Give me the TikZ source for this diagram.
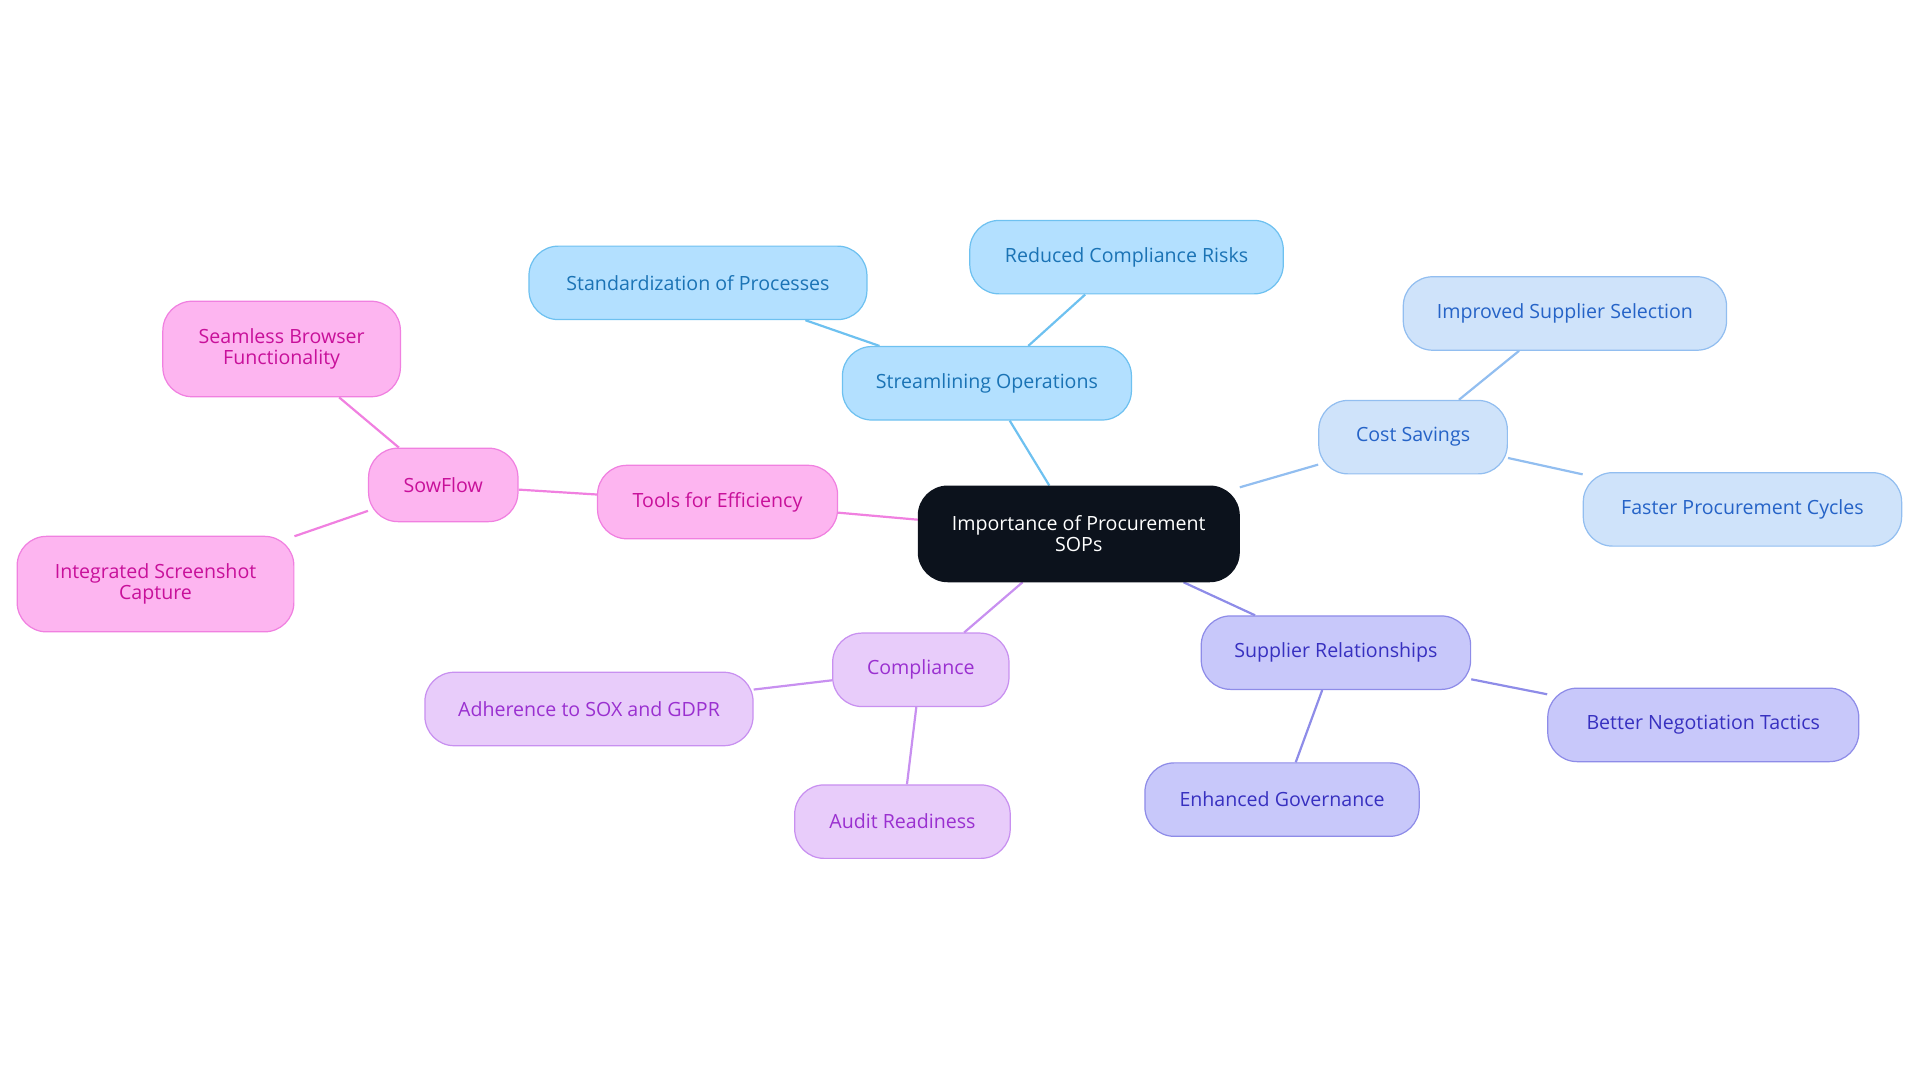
\documentclass[tikz,border=0pt]{standalone}
\usepackage{fontspec}
\setmainfont{Open Sans}
\usetikzlibrary{backgrounds}
\definecolor{bF}{HTML}{B3E0FF}\definecolor{bD}{HTML}{6EC1F0}\definecolor{bT}{HTML}{1A73B5}
\definecolor{cF}{HTML}{CFE3FA}\definecolor{cD}{HTML}{92BEF0}\definecolor{cT}{HTML}{2563C7}
\definecolor{sF}{HTML}{C8C8FA}\definecolor{sD}{HTML}{8E8CE8}\definecolor{sT}{HTML}{3730C0}
\definecolor{pF}{HTML}{E8CCFA}\definecolor{pD}{HTML}{C890F0}\definecolor{pT}{HTML}{9A30D0}
\definecolor{tF}{HTML}{FDB5F0}\definecolor{tD}{HTML}{F080E0}\definecolor{tT}{HTML}{C8109A}
\definecolor{ctr}{HTML}{0C121C}
\tikzset{
 x=0.5pt,y=-0.5pt,
 box/.style={rounded corners=12pt,draw,line width=0.5pt,font=\fontsize{8}{8.6}\selectfont,align=center,minimum height=30pt,inner sep=0pt},
 bl/.style={box,fill=bF,draw=bD,text=bT},
 cl/.style={box,fill=cF,draw=cD,text=cT},
 sl/.style={box,fill=sF,draw=sD,text=sT},
 pl/.style={box,fill=pF,draw=pD,text=pT},
 tl/.style={box,fill=tF,draw=tD,text=tT},
 ed/.style={line width=0.9pt}
}
\begin{document}
\begin{tikzpicture}
\useasboundingbox (0,0) rectangle (1568,884);
\node[box,fill=ctr,draw=ctr,text=white,minimum width=131pt,minimum height=39pt] (c) at (881,436) {Importance of Procurement\\SOPs};
\node[bl,minimum width=118pt] (so) at (806,313) {Streamlining Operations};
\node[bl,minimum width=138pt] (sp) at (570,231) {Standardization of Processes};
\node[bl,minimum width=128pt] (rc) at (920,210) {Reduced Compliance Risks};
\node[cl,minimum width=77pt] (cs) at (1154,357) {Cost Savings};
\node[cl,minimum width=132pt] (is) at (1278,256) {Improved Supplier Selection};
\node[cl,minimum width=130pt] (fp) at (1423,416) {Faster Procurement Cycles};
\node[sl,minimum width=110pt] (sr) at (1091,533) {Supplier Relationships};
\node[sl,minimum width=127pt] (bn) at (1391,592) {Better Negotiation Tactics};
\node[sl,minimum width=112pt] (eg) at (1047,653) {Enhanced Governance};
\node[pl,minimum width=72pt] (co) at (752,547) {Compliance};
\node[pl,minimum width=134pt] (ad) at (481,579) {Adherence to SOX and GDPR};
\node[pl,minimum width=88pt] (ar) at (737,671) {Audit Readiness};
\node[tl,minimum width=98pt] (tf) at (586,410) {Tools for Efficiency};
\node[tl,minimum width=61pt] (sw) at (362,396) {SowFlow};
\node[tl,minimum width=97pt,minimum height=39pt] (sb) at (230,285) {Seamless Browser\\Functionality};
\node[tl,minimum width=113pt,minimum height=39pt] (ic) at (127,477) {Integrated Screenshot\\Capture};
\begin{scope}[on background layer]
\draw[ed,bD] (c)--(so) (so)--(sp) (so)--(rc);
\draw[ed,cD] (c)--(cs) (cs)--(is) (cs)--(fp);
\draw[ed,sD] (c)--(sr) (sr)--(bn) (sr)--(eg);
\draw[ed,pD] (c)--(co) (co)--(ad) (co)--(ar);
\draw[ed,tD] (c)--(tf) (tf)--(sw) (sw)--(sb) (sw)--(ic);
\end{scope}
\end{tikzpicture}
\end{document}
